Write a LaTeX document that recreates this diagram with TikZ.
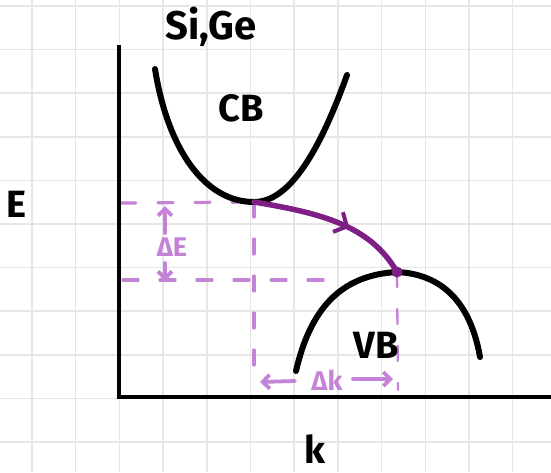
\documentclass[tikz,border=0pt]{standalone}
\usepackage{fontspec}
\setmainfont{Fira Sans}
\usetikzlibrary{arrows.meta,decorations.markings}
\definecolor{gridc}{HTML}{E6E6E6}
\definecolor{darkpurple}{HTML}{7E1F86}
\definecolor{lightpurple}{HTML}{C583D8}
\begin{document}
\begin{tikzpicture}[x=1pt,y=-1pt,
  gridline/.style={gridc,line width=1.5pt},
  axisline/.style={black,line width=4.5pt},
  band/.style={black,line width=6pt,line cap=round},
  guide/.style={lightpurple,line width=3.2pt,dash pattern=on 15pt off 22pt,line cap=round},
  dimarrow/.style={lightpurple,line width=3.8pt,line cap=round,-{Straight Barb[length=7pt,width=14pt]}},
  bigtext/.style={font=\bfseries\fontsize{38}{42}\selectfont,inner sep=0pt},
  dimlabel/.style={lightpurple,font=\bfseries\fontsize{27}{30}\selectfont,inner sep=0pt},
  transition/.style={darkpurple,line width=5.5pt,line cap=round,postaction={decorate},
    decoration={markings,mark=at position 0.6 with {\arrow{Straight Barb[length=10pt,width=22pt,line width=4pt]}}}}
]
\useasboundingbox (0,0) rectangle (551,472);
\fill[white] (0,0) rectangle (551,472);
% grid
\foreach \i in {0,...,11} \draw[gridline] ({32+43.7*\i},0) -- ({32+43.7*\i},472);
\foreach \j in {0,...,10} \draw[gridline] (0,{6+43.6*\j}) -- (551,{6+43.6*\j});
% key points
\coordinate (origin) at (119,397);
\coordinate (ytop) at (119,45);
\coordinate (xend) at (551,397);
\coordinate (cbmin) at (254,202);
\coordinate (vbmax) at (397,272);
% guides
\draw[guide] (121,203) -- (cbmin);
\draw[guide] (123,280) -- (343,280);
\draw[guide] (cbmin) -- (254,385);
\draw[guide,line width=2.3pt] (vbmax) -- (398,390);
% axes
\draw[axisline] (ytop) -- (origin) -- (xend);
% bands
\draw[band] (155,69) .. controls (168,150) and (205,202) .. (cbmin) .. controls (290,202) and (320,150) .. (347,75);
\draw[band] (296,371) .. controls (310,310) and (340,275) .. (vbmax) .. controls (440,274) and (470,300) .. (480,357);
% transition
\draw[transition] (cbmin) .. controls (320,213) and (370,225) .. (vbmax);
\fill[darkpurple] (vbmax) circle (5.5);
% dimension labels
\node[dimlabel] (dE) at (172,247) {ΔE};
\coordinate (dEtop) at (165,206);
\coordinate (dEbot) at (165,281);
\draw[dimarrow] (165,233) -- (dEtop);
\draw[dimarrow] (165,263) -- (dEbot);
\node[dimlabel] (dk) at (327,380) {Δk};
\coordinate (dkleft) at (260,382);
\coordinate (dkright) at (393,379);
\draw[dimarrow] (295,381) -- (dkleft);
\draw[dimarrow] (353,379) -- (dkright);
% labels
\node[bigtext,font=\bfseries\fontsize{40}{44}\selectfont] (mat) at (211,27) {Si,Ge};
\node[bigtext] (cb) at (241,108) {CB};
\node[bigtext] (e) at (16,204) {E};
\node[bigtext] (vb) at (376,345) {VB};
\node[bigtext] (k) at (315,449) {k};
\end{tikzpicture}
\end{document}
